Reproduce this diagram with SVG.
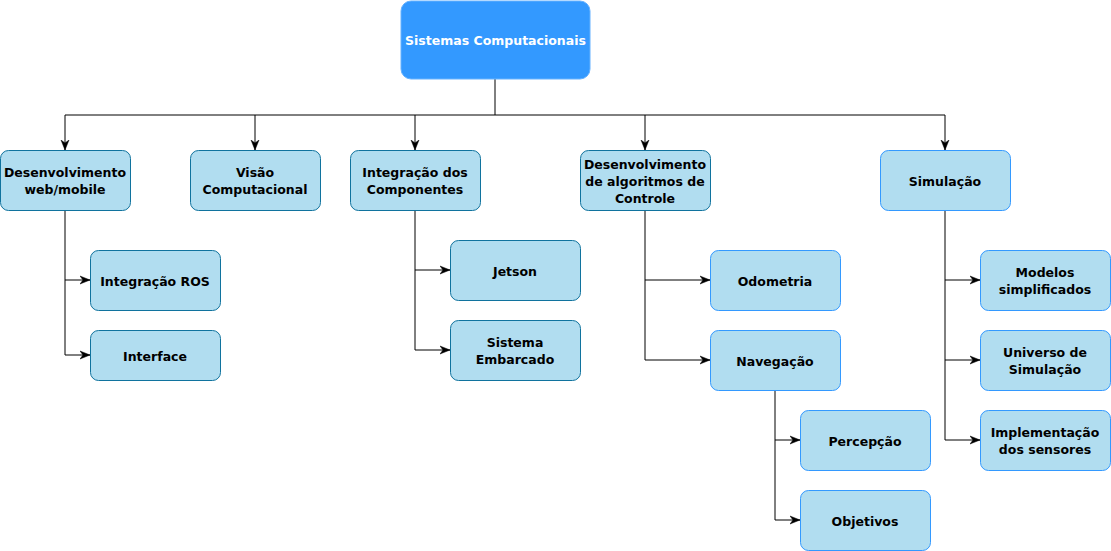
<svg xmlns="http://www.w3.org/2000/svg" width="1111" height="551" viewBox="0 0 1111 551">
<style>
.n rect{fill:#B1DDF0;stroke:#10739E;stroke-width:1}
.n.b rect{stroke:#3399FF}
.n text{font-family:"DejaVu Sans",Verdana,sans-serif;font-weight:bold;font-size:12.5px;fill:#000;text-anchor:middle}
#root rect{fill:#3399FF;stroke:#66B2FF}
#root text{fill:#fff}
.c path{fill:none;stroke:#000;stroke-width:1}
</style>
<defs>
<marker id="ar" viewBox="0 0 10 10" refX="10" refY="5" markerWidth="10" markerHeight="10" markerUnits="userSpaceOnUse" orient="auto">
<path d="M0,1 L10,5 L0,9 L3,5 z" fill="#000" stroke="#000" stroke-width="0.5"/>
</marker>
</defs>
<rect width="1111" height="551" fill="#fff"/>
<g class="c">
<path d="M495,79 V115"/>
<path d="M65,115 H945"/>
<path d="M65,115 V150" marker-end="url(#ar)"/>
<path d="M255,115 V150" marker-end="url(#ar)"/>
<path d="M415,115 V150" marker-end="url(#ar)"/>
<path d="M645,115 V150" marker-end="url(#ar)"/>
<path d="M945,115 V150" marker-end="url(#ar)"/>
<path d="M65,210 V280 H90" marker-end="url(#ar)"/>
<path d="M65,280 V355 H90" marker-end="url(#ar)"/>
<path d="M415,210 V270 H450" marker-end="url(#ar)"/>
<path d="M415,270 V350 H450" marker-end="url(#ar)"/>
<path d="M645,210 V280 H710" marker-end="url(#ar)"/>
<path d="M645,280 V360 H710" marker-end="url(#ar)"/>
<path d="M775,390 V440 H800" marker-end="url(#ar)"/>
<path d="M775,440 V520 H800" marker-end="url(#ar)"/>
<path d="M945,210 V280 H980" marker-end="url(#ar)"/>
<path d="M945,280 V360 H980" marker-end="url(#ar)"/>
<path d="M945,360 V440 H980" marker-end="url(#ar)"/>
</g>
<g id="root" class="n"><rect x="401" y="1" width="189" height="78" rx="10"/><text x="495.5" y="45">Sistemas Computacionais</text></g>
<g id="web" class="n"><rect x="0.5" y="150.5" width="130" height="60" rx="8"/><text x="65" y="177">Desenvolvimento</text><text x="65" y="194">web/mobile</text></g>
<g id="visao" class="n"><rect x="190.5" y="150.5" width="130" height="60" rx="8"/><text x="255" y="177">Visão</text><text x="255" y="194">Computacional</text></g>
<g id="integ" class="n"><rect x="350.5" y="150.5" width="130" height="60" rx="8"/><text x="415" y="177">Integração dos</text><text x="415" y="194">Componentes</text></g>
<g id="ctrl" class="n"><rect x="580.5" y="150.5" width="130" height="60" rx="8"/><text x="645" y="168.5">Desenvolvimento</text><text x="645" y="185.5">de algoritmos de</text><text x="645" y="202.5">Controle</text></g>
<g id="sim" class="n b"><rect x="880.5" y="150.5" width="130" height="60" rx="8"/><text x="945" y="185.5">Simulação</text></g>
<g id="ros" class="n"><rect x="90.5" y="250.5" width="130" height="60" rx="8"/><text x="155" y="285.5">Integração ROS</text></g>
<g id="iface" class="n"><rect x="90.5" y="330.5" width="130" height="50" rx="8"/><text x="155" y="360.5">Interface</text></g>
<g id="jetson" class="n"><rect x="450.5" y="240.5" width="130" height="60" rx="8"/><text x="515" y="275.5">Jetson</text></g>
<g id="emb" class="n"><rect x="450.5" y="320.5" width="130" height="60" rx="8"/><text x="515" y="347">Sistema</text><text x="515" y="364">Embarcado</text></g>
<g id="odo" class="n b"><rect x="710.5" y="250.5" width="130" height="60" rx="8"/><text x="775" y="285.5">Odometria</text></g>
<g id="nav" class="n b"><rect x="710.5" y="330.5" width="130" height="60" rx="8"/><text x="775" y="365.5">Navegação</text></g>
<g id="perc" class="n b"><rect x="800.5" y="410.5" width="130" height="60" rx="8"/><text x="865" y="445.5">Percepção</text></g>
<g id="obj" class="n b"><rect x="800.5" y="490.5" width="130" height="60" rx="8"/><text x="865" y="525.5">Objetivos</text></g>
<g id="mod" class="n b"><rect x="980.5" y="250.5" width="130" height="60" rx="8"/><text x="1045" y="277">Modelos</text><text x="1045" y="294">simplificados</text></g>
<g id="univ" class="n b"><rect x="980.5" y="330.5" width="130" height="60" rx="8"/><text x="1045" y="357">Universo de</text><text x="1045" y="374">Simulação</text></g>
<g id="impl" class="n b"><rect x="980.5" y="410.5" width="130" height="60" rx="8"/><text x="1045" y="437">Implementação</text><text x="1045" y="454">dos sensores</text></g>
</svg>
